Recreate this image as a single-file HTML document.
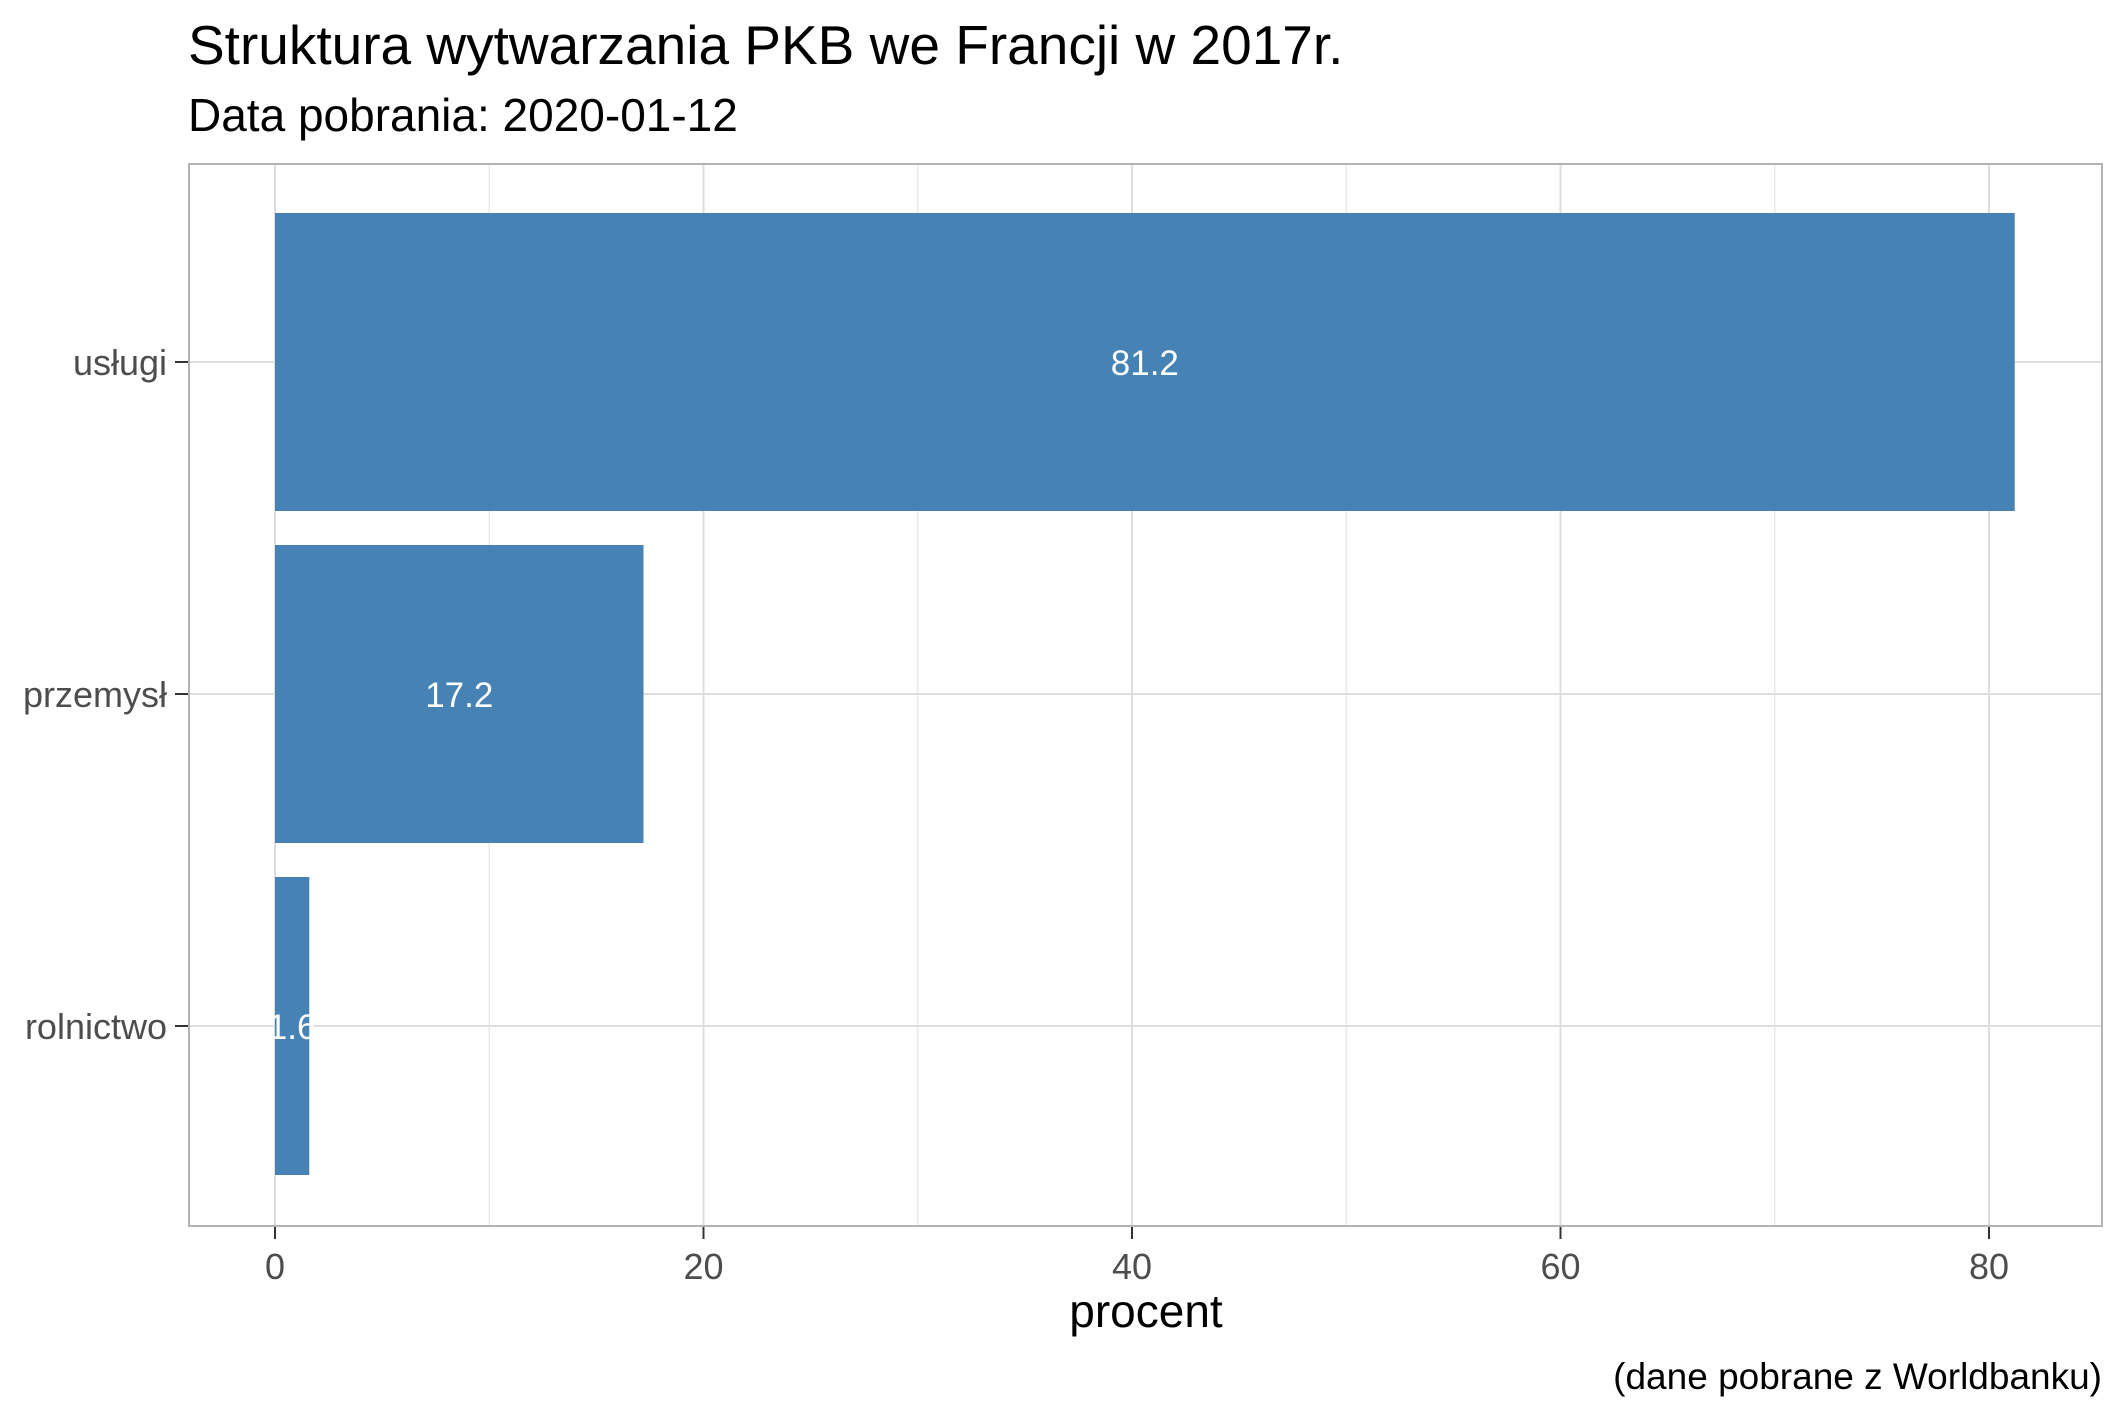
<!DOCTYPE html>
<html><head><meta charset="utf-8"><style>body{margin:0;background:#fff}svg{display:block;font-family:"Liberation Sans",Arial,sans-serif}</style></head>
<body>
<svg id="chart" width="2125" height="1417" viewBox="0 0 2125 1417" xmlns="http://www.w3.org/2000/svg">
<rect width="2125" height="1417" fill="#fff"/>
<text x="188" y="64" font-size="55" fill="#000">Struktura wytwarzania PKB we Francji w 2017r.</text>
<text x="188" y="131" font-size="46" fill="#000">Data pobrania: 2020-01-12</text>
<g id="grid"></g><g id="bars"></g><g id="axes"></g>
<rect x="189" y="164" width="1913" height="1062" fill="none" stroke="#b3b3b3" stroke-width="2"/>
<text x="1146" y="1327" font-size="46" text-anchor="middle" fill="#000">procent</text>
<text x="2102" y="1389" font-size="37" text-anchor="end" fill="#000">(dane pobrane z Worldbanku)</text>
</svg>
<script>
const categories = ["usługi","przemysł","rolnictwo"];
const values = [81.2, 17.2, 1.6];
const labels = ["81.2","17.2","1.6"];
const xTicks = [0,20,40,60,80];
const xMinor = [10,30,50,70];
const NS="http://www.w3.org/2000/svg";
const x = v => 275 + v*(1989-275)/80;
const y = i => 362 + i*332;
const bh = 298;
function mk(t,a,p){const e=document.createElementNS(NS,t);for(const k in a)e.setAttribute(k,a[k]);p.appendChild(e);return e;}
const grid=document.getElementById('grid'),bars=document.getElementById('bars'),axes=document.getElementById('axes');
xMinor.forEach(v=>{const l=mk('line',{x1:x(v),x2:x(v),y1:164,y2:1226,stroke:'#ebebeb','stroke-width':1.5},grid);

});
xTicks.forEach(v=>{const l=mk('line',{x1:x(v),x2:x(v),y1:164,y2:1226,stroke:'#dedede','stroke-width':2},grid);


const t=mk('line',{x1:x(v),x2:x(v),y1:1226,y2:1239,stroke:'#333','stroke-width':2},axes);


const tx=mk('text',{x:x(v),y:1279,'font-size':36,'text-anchor':'middle',fill:'#4d4d4d'},axes);tx.textContent=v;

});
categories.forEach((c,i)=>{const l=mk('line',{x1:189,x2:2102,y1:y(i),y2:y(i),stroke:'#dedede','stroke-width':2},grid);


const b=mk('rect',{x:x(0),y:y(i)-bh/2,width:x(values[i])-x(0),height:bh,fill:'#4682B4'},bars);


const bl=mk('text',{x:(x(0)+x(values[i]))/2,y:y(i)+13,'font-size':35,'text-anchor':'middle',fill:'#fff'},bars);bl.textContent=labels[i];


const t=mk('line',{x1:175,x2:189,y1:y(i),y2:y(i),stroke:'#333','stroke-width':2},axes);


const tx=mk('text',{x:167,y:y(i)+13,'font-size':36,'text-anchor':'end',fill:'#4d4d4d'},axes);tx.textContent=c;

});
</script>
</body></html>
